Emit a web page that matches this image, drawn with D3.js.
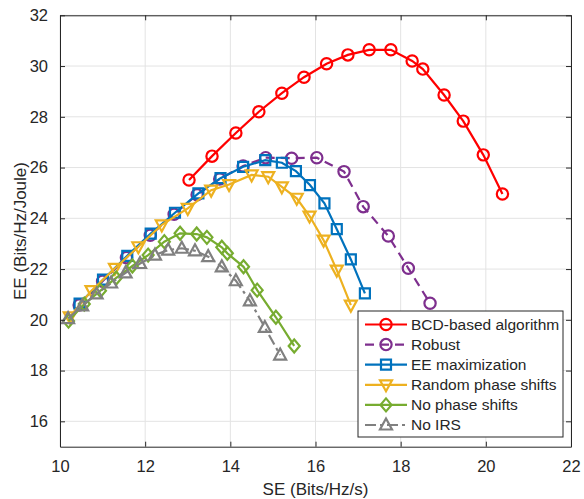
<!DOCTYPE html>
<html><head><meta charset="utf-8">
<script src="https://cdn.jsdelivr.net/npm/d3@7"></script>
<style>
body{margin:0;background:#fff}
svg{display:block}
text{font-family:"Liberation Sans",Arial,Helvetica,sans-serif;fill:#262626}
</style>
</head><body>
<svg id="chart" width="584" height="499"></svg>
<script>
// ---- data ----
const xTicks = [10, 12, 14, 16, 18, 20, 22];
const yTicks = [16, 18, 20, 22, 24, 26, 28, 30, 32];
const xLabel = "SE (Bits/Hz/s)";
const yLabel = "EE (Bits/Hz/Joule)";
const seriesNames = ["BCD-based algorithm", "Robust", "EE maximization", "Random phase shifts", "No phase shifts", "No IRS"];

const bcdSE = [13.03, 13.57, 14.13, 14.67, 15.21, 15.73, 16.26, 16.76, 17.26, 17.77, 18.27, 18.52, 19.02, 19.47, 19.94, 20.39];
const bcdEE = [25.51, 26.45, 27.36, 28.20, 28.93, 29.56, 30.09, 30.44, 30.64, 30.64, 30.20, 29.88, 28.86, 27.83, 26.50, 24.96];

const robustSE = [10.45, 11.00, 11.56, 12.12, 12.68, 13.22, 13.75, 14.30, 14.83, 15.44, 16.03, 16.67, 17.12, 17.71, 18.18, 18.69];
const robustEE = [20.58, 21.52, 22.45, 23.33, 24.16, 24.93, 25.55, 26.06, 26.39, 26.37, 26.39, 25.84, 24.46, 23.30, 22.03, 20.65];

const eeMaxSE = [10.46, 11.01, 11.58, 12.13, 12.70, 13.25, 13.77, 14.30, 14.82, 15.21, 15.54, 15.87, 16.21, 16.50, 16.83, 17.16];
const eeMaxEE = [20.64, 21.58, 22.52, 23.40, 24.22, 24.98, 25.58, 26.03, 26.29, 26.19, 25.86, 25.31, 24.59, 23.57, 22.38, 21.04];

const randSE = [10.23, 10.74, 11.29, 11.84, 12.39, 13.00, 13.55, 13.97, 14.50, 14.89, 15.21, 15.56, 15.86, 16.19, 16.50, 16.83];
const randEE = [20.12, 21.15, 22.03, 22.88, 23.74, 24.39, 25.11, 25.33, 25.71, 25.64, 25.24, 24.79, 24.09, 23.14, 21.96, 20.58];

const noPhaseSE = [10.20, 10.57, 10.95, 11.32, 11.70, 12.07, 12.45, 12.82, 13.21, 13.45, 13.80, 13.93, 14.31, 14.63, 15.07, 15.50];
const noPhaseEE = [19.95, 20.62, 21.15, 21.65, 22.12, 22.55, 23.08, 23.41, 23.38, 23.25, 22.86, 22.62, 22.09, 21.17, 20.10, 18.97];

const noIrsSE = [10.19, 10.52, 10.86, 11.20, 11.54, 11.88, 12.23, 12.54, 12.86, 13.17, 13.48, 13.80, 14.13, 14.46, 14.81, 15.17];
const noIrsEE = [20.05, 20.55, 21.02, 21.45, 21.85, 22.22, 22.55, 22.75, 22.82, 22.72, 22.49, 22.09, 21.54, 20.75, 19.70, 18.61];

// ---- styling / layout ----
const styles = [
  {color: "#FF0000", dash: null,        marker: "circle"},
  {color: "#7E2F8E", dash: "9,6",       marker: "circle"},
  {color: "#0072BD", dash: null,        marker: "square"},
  {color: "#EDB120", dash: null,        marker: "triDown"},
  {color: "#77AC30", dash: null,        marker: "diamond"},
  {color: "#808080", dash: "11,4,3,4",  marker: "triUp"}
];
const seriesData = [
  [bcdSE, bcdEE], [robustSE, robustEE], [eeMaxSE, eeMaxEE],
  [randSE, randEE], [noPhaseSE, noPhaseEE], [noIrsSE, noIrsEE]
];

const L = 60, R = 571, T = 15.3, B = 446.7;
const svg = d3.select("#chart");
const x = d3.scaleLinear().domain([10, 22]).range([L, R]);
const y = d3.scaleLinear().domain([15, 32]).range([B, T]);
const axisColor = "#262626";
const tickFs = 16.5, labelFs = 17, legendFs = 15.5;

// grid
const grid = svg.append("g");
grid.selectAll("line.gx").data(xTicks).join("line")
  .attr("x1", d => x(d)).attr("x2", d => x(d)).attr("y1", T).attr("y2", B)
  .attr("stroke", "#e3e3e3").attr("stroke-width", 1);
grid.selectAll("line.gy").data(yTicks).join("line")
  .attr("y1", d => y(d)).attr("y2", d => y(d)).attr("x1", L).attr("x2", R)
  .attr("stroke", "#e3e3e3").attr("stroke-width", 1);

// marker path generator
function markerPath(type) {
  switch (type) {
    case "circle": return d3.symbol(d3.symbolCircle, 100)();
    case "square": return "M-5,-5H5V5H-5Z";
    case "triUp": return "M0,-6.5L6,4.5L-6,4.5Z";
    case "triDown": return "M0,6.5L6,-4.5L-6,-4.5Z";
    case "diamond": return "M0,-6.5L5.5,0L0,6.5L-5.5,0Z";
  }
}

const plot = svg.append("g");
const line = d3.line().x(d => x(d[0])).y(d => y(d[1]));
seriesData.forEach((s, i) => {
  const pts = s[0].map((v, j) => [v, s[1][j]]);
  const st = styles[i];
  const g = plot.append("g");
  g.append("path").datum(pts).attr("d", line)
    .attr("fill", "none").attr("stroke", st.color).attr("stroke-width", 2.2)
    .attr("stroke-dasharray", st.dash);
  g.selectAll("path.m").data(pts).join("path").attr("class", "m")
    .attr("d", markerPath(st.marker))
    .attr("transform", d => `translate(${x(d[0])},${y(d[1])})`)
    .attr("fill", "none").attr("stroke", st.color).attr("stroke-width", 2.2);
});

// axes
function styleAxis(g) {
  g.select(".domain").attr("stroke", axisColor).attr("stroke-width", 1);
  g.selectAll(".tick line").attr("stroke", axisColor).attr("stroke-width", 1);
  g.selectAll(".tick text").attr("fill", axisColor).style("font-size", tickFs + "px")
    .style("font-family", '"Liberation Sans",Arial,sans-serif');
}
svg.append("g").attr("transform", `translate(0,${B})`)
  .call(d3.axisBottom(x).tickValues(xTicks).tickSizeInner(-5).tickSizeOuter(0).tickPadding(14))
  .call(styleAxis);
svg.append("g").attr("transform", `translate(0,${T})`)
  .call(d3.axisTop(x).tickValues(xTicks).tickSizeInner(-5).tickSizeOuter(0).tickFormat(""))
  .call(styleAxis);
svg.append("g").attr("transform", `translate(${L},0)`)
  .call(d3.axisLeft(y).tickValues(yTicks).tickSizeInner(-5).tickSizeOuter(0).tickPadding(12))
  .call(styleAxis);
svg.append("g").attr("transform", `translate(${R},0)`)
  .call(d3.axisRight(y).tickValues(yTicks).tickSizeInner(-5).tickSizeOuter(0).tickFormat(""))
  .call(styleAxis);

// axis titles
svg.append("text").attr("x", (L + R) / 2).attr("y", 495).attr("text-anchor", "middle")
  .style("font-size", labelFs + "px").text(xLabel);
svg.append("text").attr("transform", `translate(26,${(T + B) / 2}) rotate(-90)`)
  .attr("text-anchor", "middle").style("font-size", labelFs + "px").text(yLabel);

// legend
const lg = svg.append("g");
const lgX0 = 358, lgY0 = 311, lgW = 205, lgH = 126, rowH = 20.1, row0 = 324.5;
lg.append("rect").attr("x", lgX0).attr("y", lgY0).attr("width", lgW).attr("height", lgH)
  .attr("fill", "#fff").attr("stroke", axisColor).attr("stroke-width", 1);
seriesNames.forEach((name, i) => {
  const st = styles[i];
  const cy = row0 + i * rowH;
  lg.append("line").attr("x1", 365).attr("x2", 407).attr("y1", cy).attr("y2", cy)
    .attr("stroke", st.color).attr("stroke-width", 2.2).attr("stroke-dasharray", st.dash);
  lg.append("path").attr("d", markerPath(st.marker)).attr("transform", `translate(386,${cy})`)
    .attr("fill", "none").attr("stroke", st.color).attr("stroke-width", 2.2);
  lg.append("text").attr("x", 411).attr("y", cy).attr("dy", "0.35em")
    .style("font-size", legendFs + "px").attr("fill", "#000").text(name);
});
</script>
</body></html>
